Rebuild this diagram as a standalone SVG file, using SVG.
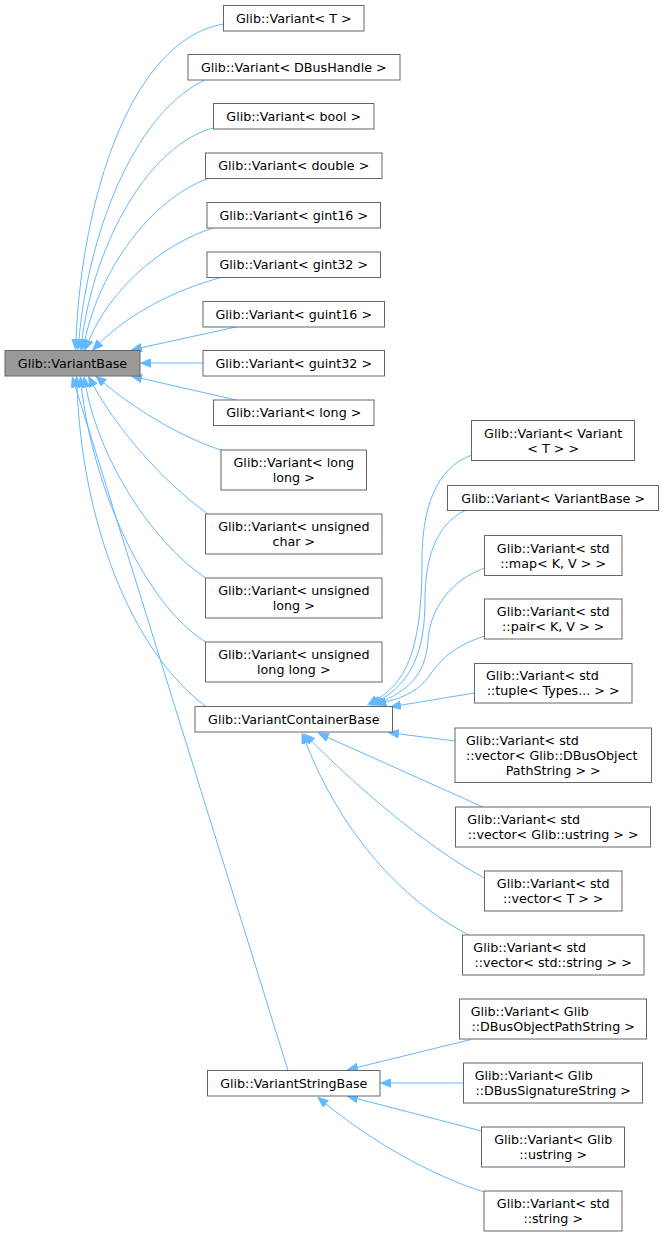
<svg xmlns="http://www.w3.org/2000/svg" width="664" height="1237" viewBox="0 0 664 1237">
<style>
.n rect{fill:#fff;stroke:#666;stroke-width:1}
.root rect{fill:#999}
text{font-family:"DejaVu Sans",sans-serif;font-size:12.7px;fill:#000}
.c{text-anchor:middle}
.e path{fill:none;stroke:#63b8ff;stroke-width:1;marker-end:url(#arr)}
</style>
<defs>
<marker id="arr" markerUnits="userSpaceOnUse" markerWidth="11" markerHeight="9" refX="0" refY="4.5" orient="auto" viewBox="0 0 11 9">
<path d="M0,0 L11,4.5 L0,9 z" fill="#63b8ff" stroke="#63b8ff" stroke-width="0.5"/>
</marker>
</defs>
<rect width="664" height="1237" fill="#fff"/>
<g id="edges" class="e">
<path d="M223.5,24 C130,40 82,200 76,339"/>
<path d="M205,80 C140,110 90,220 79,339"/>
<path d="M213,128 C150,145 95,240 82,339.5"/>
<path d="M208,178.5 C150,200 100,270 85,339.5"/>
<path d="M213,228 C160,245 110,290 89,340.3"/>
<path d="M221,277.5 C175,290 130,313 100,342.7"/>
<path d="M236,327 L141.7,347.6"/>
<path d="M203,363 L151,363"/>
<path d="M236,400 L141.7,378.4"/>
<path d="M221,450 C175,435 130,405 104,383"/>
<path d="M208,514 C160,480 115,425 93.6,385.8"/>
<path d="M205.5,578 C150,540 100,460 85.9,387.3"/>
<path d="M205.5,642 C140,600 92,480 81.5,387.3"/>
<path d="M206,706.5 C130,650 82,520 77,387"/>
<path d="M288,1070.5 L75.5,387"/>
<path d="M472,455 C435,468 422,510 422,560 C422,640 410,680 376.8,699.4"/>
<path d="M465,510.5 C435,525 425,560 425,600 C425,650 412,682 380,700"/>
<path d="M485,568 C450,580 430,610 428,640 C426,670 413,688 383,701"/>
<path d="M485,636 C455,645 440,660 430,675 C420,690 405,697 386,702"/>
<path d="M474.5,693 L400.8,705.2"/>
<path d="M455,741 L398.9,733.9"/>
<path d="M483,807 L328,737.5"/>
<path d="M484.5,878 C440,855 370,800 312,741.5"/>
<path d="M469,935 C400,900 340,830 306,743"/>
<path d="M471,1039.5 L357.7,1067.3"/>
<path d="M463.5,1083 L391,1083"/>
<path d="M481.5,1131 L357.6,1098.8"/>
<path d="M484,1192 C430,1175 370,1140 326,1104"/>
</g>
<g id="VariantBase" class="n root"><rect x="5" y="350.5" width="135" height="25.5"/><text class="c" x="72.5" y="367.7">Glib::VariantBase</text></g>
<g id="VariantT" class="n"><rect x="223.5" y="5.5" width="140.5" height="25.5"/><text class="c" x="293.8" y="22.7">Glib::Variant&lt; T &gt;</text></g>
<g id="VariantDBusHandle" class="n"><rect x="188" y="54.5" width="212" height="25.5"/><text class="c" x="293.8" y="71.7">Glib::Variant&lt; DBusHandle &gt;</text></g>
<g id="VariantBool" class="n"><rect x="213.5" y="103.5" width="160.5" height="25.5"/><text class="c" x="293.8" y="120.7">Glib::Variant&lt; bool &gt;</text></g>
<g id="VariantDouble" class="n"><rect x="205.5" y="153" width="176.5" height="25.5"/><text class="c" x="293.8" y="170.2">Glib::Variant&lt; double &gt;</text></g>
<g id="VariantGint16" class="n"><rect x="207" y="202.5" width="173.5" height="25.5"/><text class="c" x="293.8" y="219.7">Glib::Variant&lt; gint16 &gt;</text></g>
<g id="VariantGint32" class="n"><rect x="207" y="252" width="173.5" height="25.5"/><text class="c" x="293.8" y="269.2">Glib::Variant&lt; gint32 &gt;</text></g>
<g id="VariantGuint16" class="n"><rect x="203" y="301.5" width="181.5" height="25.5"/><text class="c" x="293.8" y="318.7">Glib::Variant&lt; guint16 &gt;</text></g>
<g id="VariantGuint32" class="n"><rect x="203" y="350.5" width="181.5" height="25.5"/><text class="c" x="293.8" y="367.7">Glib::Variant&lt; guint32 &gt;</text></g>
<g id="VariantLong" class="n"><rect x="213.5" y="400" width="160.5" height="25.5"/><text class="c" x="293.8" y="417.2">Glib::Variant&lt; long &gt;</text></g>
<g id="VariantLongLong" class="n"><rect x="221" y="450" width="145.5" height="40"/><text class="c" x="293.8" y="467">Glib::Variant&lt; long</text><text class="c" x="293.8" y="482">long &gt;</text></g>
<g id="VariantUChar" class="n"><rect x="205.5" y="514" width="176.5" height="40"/><text class="c" x="293.8" y="531">Glib::Variant&lt; unsigned</text><text class="c" x="293.8" y="546">char &gt;</text></g>
<g id="VariantULong" class="n"><rect x="205.5" y="578" width="176.5" height="40"/><text class="c" x="293.8" y="595">Glib::Variant&lt; unsigned</text><text class="c" x="293.8" y="610">long &gt;</text></g>
<g id="VariantULongLong" class="n"><rect x="205.5" y="642" width="176.5" height="40"/><text class="c" x="293.8" y="659">Glib::Variant&lt; unsigned</text><text class="c" x="293.8" y="674">long long &gt;</text></g>
<g id="VariantContainerBase" class="n"><rect x="195" y="706.5" width="197.5" height="25.5"/><text class="c" x="293.8" y="723.7">Glib::VariantContainerBase</text></g>
<g id="VariantStringBase" class="n"><rect x="207.5" y="1070.5" width="172.5" height="25.5"/><text class="c" x="293.8" y="1087.7">Glib::VariantStringBase</text></g>
<g id="VariantVariantT" class="n"><rect x="471.5" y="420.5" width="163" height="40"/><text class="c" x="553.2" y="437.5">Glib::Variant&lt; Variant</text><text class="c" x="553.2" y="452.5">&lt; T &gt; &gt;</text></g>
<g id="VariantVariantBase" class="n"><rect x="447.5" y="485.5" width="211" height="25"/><text class="c" x="553.2" y="502.5">Glib::Variant&lt; VariantBase &gt;</text></g>
<g id="VariantMap" class="n"><rect x="484.5" y="535.5" width="137.5" height="40"/><text class="c" x="553.2" y="552.5">Glib::Variant&lt; std</text><text class="c" x="553.2" y="567.5">::map&lt; K, V &gt; &gt;</text></g>
<g id="VariantPair" class="n"><rect x="484.5" y="599" width="137.5" height="40"/><text class="c" x="553.2" y="616">Glib::Variant&lt; std</text><text class="c" x="553.2" y="631">::pair&lt; K, V &gt; &gt;</text></g>
<g id="VariantTuple" class="n"><rect x="474.5" y="663.5" width="157.5" height="39.5"/><text x="486" y="680.3">Glib::Variant&lt; std</text><text class="c" x="553.2" y="695.3">::tuple&lt; Types... &gt; &gt;</text></g>
<g id="VariantVecDBusObjectPath" class="n"><rect x="455" y="728" width="196.5" height="54.5"/><text x="466" y="744.8">Glib::Variant&lt; std</text><text x="466" y="759.8">::vector&lt; Glib::DBusObject</text><text class="c" x="553.2" y="774.8">PathString &gt; &gt;</text></g>
<g id="VariantVecUstring" class="n"><rect x="455.5" y="807" width="195" height="40"/><text x="467.3" y="824">Glib::Variant&lt; std</text><text class="c" x="553.2" y="839">::vector&lt; Glib::ustring &gt; &gt;</text></g>
<g id="VariantVecT" class="n"><rect x="484.5" y="871" width="137.5" height="40"/><text class="c" x="553.2" y="888">Glib::Variant&lt; std</text><text class="c" x="553.2" y="903">::vector&lt; T &gt; &gt;</text></g>
<g id="VariantVecString" class="n"><rect x="462.5" y="935" width="181.5" height="40"/><text x="473.3" y="952">Glib::Variant&lt; std</text><text class="c" x="553.2" y="967">::vector&lt; std::string &gt; &gt;</text></g>
<g id="VariantDBusObjectPathString" class="n"><rect x="459.5" y="999" width="187" height="40"/><text x="470.7" y="1016">Glib::Variant&lt; Glib</text><text class="c" x="553.2" y="1031">::DBusObjectPathString &gt;</text></g>
<g id="VariantDBusSignatureString" class="n"><rect x="463.5" y="1063" width="179" height="40"/><text x="474.7" y="1080">Glib::Variant&lt; Glib</text><text class="c" x="553.2" y="1095">::DBusSignatureString &gt;</text></g>
<g id="VariantUstring" class="n"><rect x="481.5" y="1127" width="143" height="40"/><text class="c" x="553.2" y="1144">Glib::Variant&lt; Glib</text><text class="c" x="553.2" y="1159">::ustring &gt;</text></g>
<g id="VariantStdString" class="n"><rect x="484" y="1191" width="138" height="40"/><text class="c" x="553.2" y="1208">Glib::Variant&lt; std</text><text class="c" x="553.2" y="1223">::string &gt;</text></g>
</svg>
